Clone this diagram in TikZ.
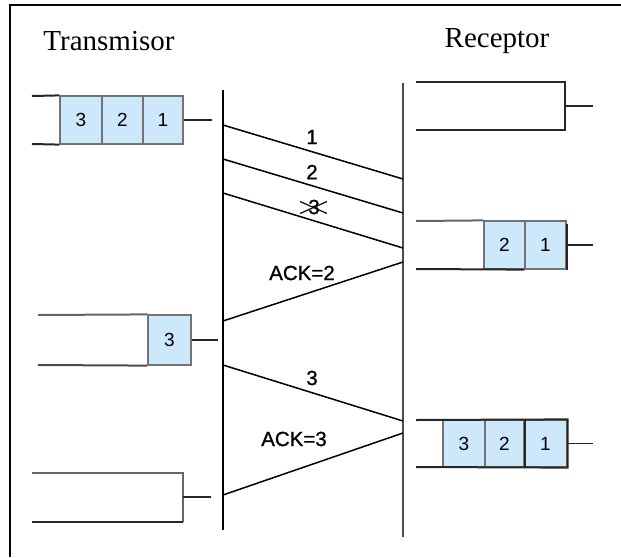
\documentclass[tikz,border=0pt]{standalone}
\usepackage{fontspec}
\setmainfont{Liberation Serif}
\newfontfamily\arialf{Liberation Sans}
\newfontfamily\arialb[FakeBold=1]{Liberation Sans}
\definecolor{cellblue}{RGB}{204,232,250}
\begin{document}
\begin{tikzpicture}[x=1pt,y=-1pt,
  cell/.style={draw=black!55, line width=1.2pt, fill=cellblue, minimum height=48pt, inner sep=0pt, font=\arialf\fontsize{19}{19}\selectfont},
  buf/.style={line width=2pt, draw=black!85},
  capline/.style={line width=1.5pt, draw=black!85},
  msg/.style={line width=1.5pt},
  lbl/.style={font=\arialb\fontsize{20.5}{20.5}\selectfont, inner sep=1pt},
  title/.style={font=\fontsize{29}{30}\selectfont, inner sep=0pt}]
\useasboundingbox (0,0) rectangle (621,557);
\draw[line width=2pt] (10,557) -- (10,5) -- (621,5);
\node[title, anchor=base] (tx) at (109,50) {Transmisor};
\node[title, anchor=base] (rx) at (497,47) {Receptor};
% timelines
\coordinate (Ltop) at (223,90);
\coordinate (Lbot) at (223,530);
\coordinate (Rtop) at (403,83);
\coordinate (Rbot) at (403,537);
\draw[line width=2.5pt] (Ltop) -- (Lbot);
\draw[line width=1.5pt, black!70] (Rtop) -- (Rbot);
% message end points
\coordinate (s1) at (223,125); \coordinate (r1) at (403,179);
\coordinate (s2) at (223,159); \coordinate (r2) at (403,213);
\coordinate (s3) at (223,193); \coordinate (r3) at (403,248);
\coordinate (a2r) at (403,262); \coordinate (a2s) at (223,321);
\coordinate (s4) at (223,365); \coordinate (r4) at (403,421);
\coordinate (a3r) at (403,433); \coordinate (a3s) at (223,495);
\draw[msg] (s1) -- (r1);
\draw[msg] (s2) -- (r2);
\draw[msg] (s3) -- (r3);
\draw[msg] (a2r) -- (a2s);
\draw[msg] (s4) -- (r4);
\draw[msg] (a3r) -- (a3s);
\node[lbl] (m1) at (312,137) {1};
\node[lbl] (m2) at (312,172) {2};
\node[lbl] (m3) at (314,207) {3};
\draw[line width=1.2pt] ([xshift=-7pt,yshift=-3pt]m3.north west) -- ([xshift=6pt,yshift=2pt]m3.south east);
\draw[line width=1.2pt] ([xshift=-7pt,yshift=2pt]m3.south west) -- ([xshift=6pt,yshift=-3pt]m3.north east);
\node[lbl] (k2) at (302,273) {ACK=2};
\node[lbl] (m4) at (312,378) {3};
\node[lbl] (k3) at (294,439) {ACK=3};
% transmitter buffer 1
\node[cell, minimum width=42pt] (t13) at (81,120) {3};
\node[cell, minimum width=41pt] (t12) at (122.5,120) {2};
\node[cell, minimum width=40pt] (t11) at (163,120) {1};
\draw[buf] (32,96) -- (t13.north west);
\draw[buf] (32,144) -- (t13.south west);
\draw[capline] (t11.east) -- (212,120);
% transmitter buffer 2
\node[cell, minimum width=43pt, minimum height=50pt] (t23) at (169.5,340) {3};
\draw[buf, black!60] (38,315) -- (t23.north west);
\draw[buf, black!70] (38,365) -- (t23.south west);
\draw[capline] (t23.east) -- (218,340);
% transmitter buffer 3
\coordinate (t3a) at (32,473);
\coordinate (t3b) at (32,522);
\draw[buf, black!60] (t3a) -- (183,473) -- (183,522);
\draw[buf] (183,522) -- (t3b);
\coordinate (t3c) at (183,497);
\draw[capline] (t3c) -- (211,497);
% receiver buffer 1
\coordinate (r1a) at (416,82);
\coordinate (r1b) at (416,130);
\draw[buf] (r1a) -- (565,82) -- (565,130) -- (r1b);
\coordinate (r1c) at (565,106);
\draw[capline] (r1c) -- (593,106);
% receiver buffer 2
\node[cell, minimum width=41pt] (u22) at (504.5,245) {2};
\node[cell, minimum width=41pt] (u21) at (545.5,245) {1};
\draw[buf, black!60] (416,221) -- (u22.north west);
\draw[buf] (416,269) -- (u21.south west);
\draw[buf] ([yshift=-4pt]u21.north east) -- (u21.south east);
\draw[capline] (u21.east) -- (593,245);
% receiver buffer 3
\node[cell, minimum width=42pt, minimum height=47pt] (u33) at (464,443.5) {3};
\node[cell, minimum width=39pt, minimum height=47pt] (u32) at (504.5,443.5) {2};
\node[cell, minimum width=43pt, minimum height=47pt] (u31) at (545.5,443.5) {1};
\draw[buf] (416,420) -- (u31.north east) -- (u31.south east) -- (416,467);
\draw[buf] (u32.north east) -- (u32.south east);
\draw[capline] (u31.east) -- (593,443.5);
\end{tikzpicture}
\end{document}
